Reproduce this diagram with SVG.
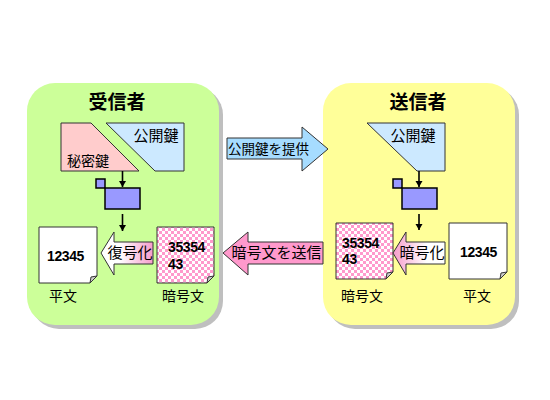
<svg xmlns="http://www.w3.org/2000/svg" width="550" height="400" viewBox="0 0 550 400">
<style>
.t{font-family:"Noto Sans CJK JP","Liberation Sans",sans-serif;fill:#000;text-anchor:middle}
.n{font-family:"Liberation Sans",Arial,sans-serif;font-weight:bold;font-size:14px;letter-spacing:-0.4px;fill:#000}
.o{stroke:#333;stroke-width:1}
.b{fill:#99f;stroke:#000;stroke-width:1.5}
.d{stroke:#333;stroke-width:1}
.c{stroke:#000;stroke-width:1.6;fill:none;marker-end:url(#ah)}
</style>
<defs>
<marker id="ah" markerUnits="userSpaceOnUse" markerWidth="8" markerHeight="8" refX="6" refY="3.5" orient="auto"><path d="M0,0L6,3.5L0,7z" fill="#000"/></marker>
<pattern id="ck" width="6" height="6" patternUnits="userSpaceOnUse"><rect width="6" height="6" fill="#fff"/><rect width="3" height="3" fill="#ff99cc"/><rect x="3" y="3" width="3" height="3" fill="#ff99cc"/></pattern>
<linearGradient id="gl" x1="0" x2="1" y1="0" y2="0"><stop offset="0" stop-color="#fff"/><stop offset="0.35" stop-color="#fff"/><stop offset="1" stop-color="#f69ccb"/></linearGradient>
<linearGradient id="gr" x1="0" x2="1" y1="0" y2="0"><stop offset="0" stop-color="#f69ccb"/><stop offset="0.65" stop-color="#fff"/><stop offset="1" stop-color="#fff"/></linearGradient>
</defs>
<rect width="550" height="400" fill="#fff"/>
<g id="receiver">
<rect x="31" y="87" width="192" height="242" rx="28" fill="#bfbfbf"/>
<rect x="27" y="83" width="192" height="242" rx="28" fill="#ccff99"/>
<text class="t" x="117" y="109" font-size="19" font-weight="bold">受信者</text>
</g>
<g id="sender">
<rect x="327" y="87" width="192" height="242" rx="28" fill="#bfbfbf"/>
<rect x="323" y="83" width="192" height="242" rx="28" fill="#ffff99"/>
<text class="t" x="418" y="109" font-size="19" font-weight="bold">送信者</text>
</g>
<g id="r-private-key">
<polygon class="o" points="61,123 91,123 139,171 61,171" fill="#ffcccc"/>
<text class="t" x="88" y="166" font-size="14">秘密鍵</text>
</g>
<g id="r-public-key">
<polygon class="o" points="106,123 184,123 184,171 155,171" fill="#cce9ff"/>
<text class="t" x="156" y="141" font-size="15">公開鍵</text>
</g>
<g id="s-public-key">
<polygon class="o" points="367,123 445,123 445,171 417,171" fill="#cce9ff"/>
<text class="t" x="413" y="141" font-size="15">公開鍵</text>
</g>
<g id="r-lock"><rect class="b" x="96" y="179" width="9" height="9"/><rect class="b" x="105" y="188" width="35" height="21"/></g>
<g id="s-lock"><rect class="b" x="393" y="179" width="9" height="9"/><rect class="b" x="402" y="188" width="35" height="21"/></g>
<g id="connectors">
<path class="c" d="M122.500,171V187"/>
<path class="c" d="M122.500,214V231"/>
<path class="c" d="M419,171V187"/>
<path class="c" d="M419,214V230"/>
</g>
<g id="r-plain">
<polygon class="d" points="39,227 97,227 97,276 90,283 39,283" fill="#fff"/>
<polygon class="d" points="90,283 91,277 97,276" fill="#ccc"/>
<text class="n" x="47" y="261">12345</text>
<text class="t" x="63" y="301" font-size="14">平文</text>
</g>
<g id="r-cipher">
<polygon class="d" points="157,227 214,227 214,276 207,283 157,283" fill="url(#ck)"/>
<polygon class="d" points="207,283 208,277 214,276" fill="#ccc"/>
<text class="n" x="168" y="252">35354</text>
<text class="n" x="168" y="269">43</text>
<text class="t" x="183" y="301" font-size="14">暗号文</text>
</g>
<g id="s-cipher">
<polygon class="d" points="336,223 393,223 393,272 386,279 336,279" fill="url(#ck)"/>
<polygon class="d" points="386,279 387,273 393,272" fill="#ccc"/>
<text class="n" x="342" y="248">35354</text>
<text class="n" x="342" y="264">43</text>
<text class="t" x="362" y="301" font-size="14">暗号文</text>
</g>
<g id="s-plain">
<polygon class="d" points="449,223 507,223 507,272 500,279 449,279" fill="#fff"/>
<polygon class="d" points="500,279 501,273 507,272" fill="#ccc"/>
<text class="n" x="460" y="257">12345</text>
<text class="t" x="477" y="301" font-size="14">平文</text>
</g>
<g id="decrypt-arrow">
<polygon class="d" points="101,253 114,232 114,242 153,242 153,264 114,264 114,275" fill="url(#gl)"/>
<text class="t" x="130" y="258" font-size="15">復号化</text>
</g>
<g id="encrypt-arrow">
<polygon class="d" points="393,253 406,232 406,242 445,242 445,264 406,264 406,275" fill="url(#gr)"/>
<text class="t" x="422" y="258" font-size="15">暗号化</text>
</g>
<g id="provide-key-arrow">
<polygon class="d" points="227,138 302,138 302,127 328,149 302,171 302,159 227,159" fill="#a6dcff"/>
<text class="t" x="268.500" y="154" font-size="13.500">公開鍵を提供</text>
</g>
<g id="send-cipher-arrow">
<polygon class="d" points="223,253 248,232 248,242 323,242 323,264 248,264 248,275" fill="#ff99cc"/>
<text class="t" x="276.500" y="258" font-size="15">暗号文を送信</text>
</g>
</svg>
